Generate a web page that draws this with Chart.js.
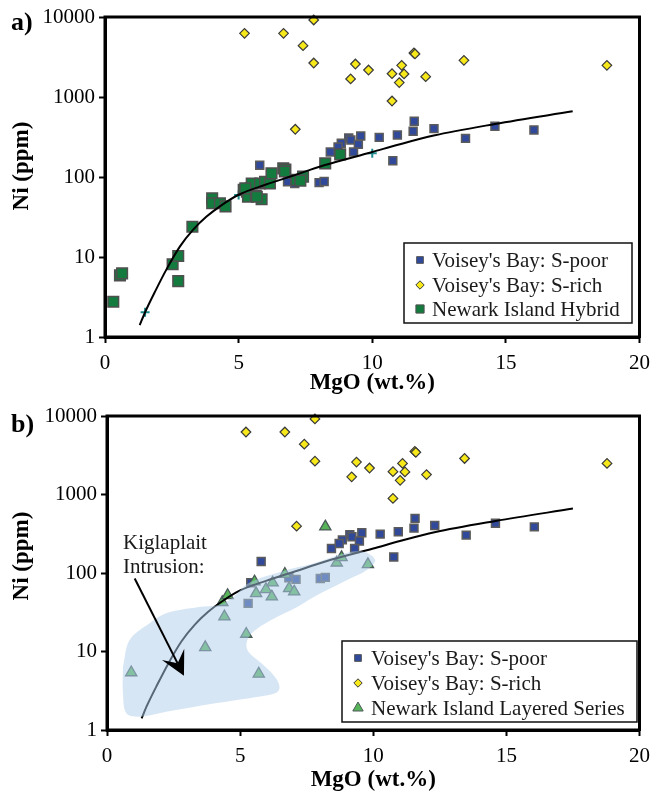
<!DOCTYPE html>
<html>
<head>
<meta charset="utf-8">
<script src="https://cdn.jsdelivr.net/npm/chart.js@4.4.1/dist/chart.umd.min.js"></script>
<style>
  html, body { margin: 0; padding: 0; background: #fff; }
  #wrap { position: relative; width: 658px; height: 794px; }
  canvas { position: absolute; left: 0; }
  #chartA { top: 0; }
  #chartB { top: 395px; }
</style>
</head>
<body>
<div id="wrap">
  <canvas id="chartA" width="658" height="395"></canvas>
  <canvas id="chartB" width="658" height="399"></canvas>
</div>
<script>
'use strict';

/* ── data: [MgO wt.%, Ni ppm] ── */
const MGO_TICKS = [0, 5, 10, 15, 20];
const NI_TICKS  = [1, 10, 100, 1000, 10000];

const S_POOR = [
  [11.57, 497], [11.53, 373], [12.31, 402], [14.59, 430], [16.05, 387],
  [13.49, 304], [10.94, 335], [10.26, 313], [9.57, 325], [9.12, 307],
  [9.2, 290], [8.84, 264], [8.72, 237], [9.48, 256], [8.43, 205],
  [9.3, 205], [10.77, 160], [5.79, 140], [8.01, 85], [8.2, 88],
  [6.83, 87], [7.1, 83], [5.4, 75],
];
const S_POOR_B_ONLY = [[5.3, 41]];

const S_RICH = [
  [5.22, 6250], [6.68, 6250], [7.81, 9175], [7.41, 4380], [7.81, 2660],
  [9.37, 2585], [9.19, 1680], [9.86, 2175], [10.74, 1955], [11.1, 2490],
  [11.19, 1940], [11.01, 1515], [10.74, 891], [11.56, 3550], [11.6, 3450],
  [12.0, 1795], [13.43, 2875], [18.78, 2490], [7.12, 395],
];

const NEWARK_HYBRID = [
  [0.31, 2.76], [0.56, 5.9], [0.64, 6.25], [2.53, 8.1], [2.74, 10.3],
  [2.74, 5.0], [3.27, 23.9], [4.01, 54], [4.01, 47], [4.3, 47],
  [4.51, 43], [5.19, 69], [5.31, 65.5], [5.35, 56.7], [5.49, 83],
  [5.64, 58], [5.86, 52.6], [5.8, 83], [5.99, 87], [6.17, 83],
  [6.23, 111], [6.67, 128], [6.75, 124], [6.73, 117], [7.16, 92],
  [7.41, 101], [7.31, 90], [5.25, 72], [5.68, 56.7], [8.24, 148],
  [8.8, 192],
];

const NEWARK_LAYERED = [
  [0.91, 5.4], [3.69, 11.3], [5.23, 16.7], [5.7, 5.2], [4.41, 27.8],
  [4.33, 42.4], [4.53, 52], [5.54, 77.5], [5.6, 55.1], [5.97, 62],
  [6.22, 75.2], [6.19, 49.9], [6.68, 97], [6.84, 63.8], [7.03, 57.8],
  [8.2, 389], [8.63, 135], [8.81, 158], [9.8, 129],
];

const MODEL_CURVE = [
  [1.3, 1.41], [1.5, 2.04], [1.9, 3.85], [2.3, 7.0], [2.8, 13.5],
  [3.3, 22], [3.8, 32], [4.3, 43], [5.0, 60], [6.0, 80],
  [7.0, 103], [8.2, 140], [10.0, 205], [11.0, 255], [12.3, 330],
  [14.6, 460], [17.5, 662],
];
const MODEL_NODES = [[1.5, 2.04], [5.0, 59.6], [10.0, 198]];

// contour of the Kiglapait Intrusion field (panel b)
const KIGLA_REGION = [
  [0.6, 6.4], [0.85, 14.0], [1.6, 22.9], [2.22, 30.7], [3.45, 36.9],
  [4.19, 39.1], [4.69, 47.6], [5.31, 74], [6.54, 104], [7.78, 133],
  [9.02, 181], [9.64, 187], [10.07, 146], [9.76, 109], [9.02, 81.5],
  [7.78, 49.9], [7.16, 37.2], [6.17, 25.2], [5.43, 17.1], [5.24, 12.7],
  [5.31, 9.95], [5.8, 7.07], [6.3, 4.78], [6.48, 3.56], [6.36, 2.99],
  [5.68, 2.66], [4.07, 2.19], [2.22, 1.71], [1.22, 1.48], [0.73, 1.63],
  [0.6, 2.94], [0.6, 6.4],
];
const KIGLA_ARROW = [[1.04, 85], [2.89, 4.9]];
const KIGLA_LABEL = { at: [0.6, 241], lines: ['Kiglaplait', 'Intrusion:'] };

/* ── styles ── */
const SERIF = "'Liberation Serif', 'Times New Roman', serif";
Chart.defaults.font.family = SERIF;
Chart.defaults.color = '#000';

const ST_POOR    = { pointStyle: 'rect',    backgroundColor: '#30499b', borderColor: '#5b5b5b', borderWidth: 1.5 };
const ST_RICH    = { pointStyle: 'rectRot', backgroundColor: '#f7e81a', borderColor: '#3a3a3a', borderWidth: 1.2 };
const ST_HYBRID  = { pointStyle: 'rect',    backgroundColor: '#147b3e', borderColor: '#4f4f4f', borderWidth: 1.5 };
const ST_LAYERED = { pointStyle: 'triangle', backgroundColor: '#58b458', borderColor: '#4b5a5a', borderWidth: 1.3 };

const toPts = arr => arr.map(([x, y]) => ({ x, y }));

function axisCommon() {
  return {
    grid:   { drawOnChartArea: false, drawTicks: true, tickLength: 6, tickWidth: 2, tickColor: '#000' },
    border: { display: true, color: '#000', width: 3 },
  };
}

function baseOptions(p) {
  return {
    responsive: false,
    animation: false,
    events: [],
    layout: { padding: { top: p.top, right: p.right, left: 0, bottom: 0 } },
    plugins: { legend: { display: false }, tooltip: { enabled: false } },
    scales: {
      x: {
        type: 'linear', min: 0, max: 20,
        afterBuildTicks: s => { s.ticks = MGO_TICKS.map(v => ({ value: v })); },
        afterFit: s => { s.height = p.xHeight; },
        ticks: { color: '#000', font: { size: 21 }, padding: 8, maxRotation: 0 },
        title: {
          display: true, text: 'MgO (wt.%)', color: '#000',
          font: { size: 23, weight: 'bold' }, padding: { top: 0, bottom: p.xTitlePad },
        },
        ...axisCommon(),
      },
      y: {
        type: 'logarithmic', min: 1, max: 10000,
        afterBuildTicks: s => { s.ticks = NI_TICKS.map(v => ({ value: v })); },
        afterFit: s => { s.width = p.yWidth; },
        ticks: { color: '#000', font: { size: 21 }, padding: 4, callback: v => String(v) },
        ...axisCommon(),
      },
    },
  };
}

/* frame, panel letter, y title, in-plot legend and extras */
function decorPlugin(cfg) {
  return {
    id: 'decor',
    afterDraw(chart) {
      const { ctx, chartArea: a } = chart;
      ctx.save();
      ctx.strokeStyle = '#000';
      ctx.lineWidth = 3;
      ctx.strokeRect(a.left, a.top, a.right - a.left, a.bottom - a.top);

      ctx.fillStyle = '#000';
      ctx.textAlign = 'left';
      ctx.textBaseline = 'middle';
      ctx.font = `bold 26px ${SERIF}`;
      ctx.fillText(cfg.letter, 11, cfg.letterY);

      ctx.save();
      ctx.translate(22, cfg.yTitleY);
      ctx.rotate(-Math.PI / 2);
      ctx.textAlign = 'center';
      ctx.font = `bold 23px ${SERIF}`;
      ctx.fillText('Ni (ppm)', 0, 0);
      ctx.restore();

      if (cfg.extra) cfg.extra(chart);

      // legend
      const L = cfg.legend;
      ctx.fillStyle = '#fff';
      ctx.fillRect(L.x, L.y, L.w, L.h);
      ctx.lineWidth = 1.5;
      ctx.strokeStyle = '#111';
      ctx.strokeRect(L.x, L.y, L.w, L.h);
      ctx.font = `21px ${SERIF}`;
      ctx.textAlign = 'left';
      ctx.textBaseline = 'middle';
      L.items.forEach((it, i) => {
        const y = L.rows[i];
        ctx.fillStyle = it.style.backgroundColor;
        ctx.strokeStyle = it.style.borderColor;
        ctx.lineWidth = 1;
        Chart.helpers.drawPoint(ctx, { pointStyle: it.style.pointStyle, radius: it.r, borderWidth: 1, rotation: 0 }, L.markX, y);
        ctx.fillStyle = '#1a1a1a';
        ctx.fillText(it.label, L.textX, y + 1);
      });
      ctx.restore();
    },
  };
}

/* ── panel a ── */
new Chart(document.getElementById('chartA'), {
  type: 'scatter',
  data: {
    datasets: [
      { label: 'model', data: toPts(MODEL_CURVE), showLine: true, borderColor: '#000', borderWidth: 2,
        pointRadius: 0, cubicInterpolationMode: 'monotone', fill: false, order: 1 },
      { label: 'Newark Island Hybrid', data: toPts(NEWARK_HYBRID), ...ST_HYBRID, pointRadius: 7.5, order: 2, clip: 12 },
      { label: "Voisey's Bay: S-rich", data: toPts(S_RICH), ...ST_RICH, pointRadius: 4.8, order: 3, clip: 12 },
      { label: "Voisey's Bay: S-poor", data: toPts(S_POOR), ...ST_POOR, pointRadius: 5.6, order: 4, clip: 12 },
      { label: 'nodes', data: toPts(MODEL_NODES), pointStyle: 'cross', pointRadius: 4.5,
        borderColor: '#1c8c8c', borderWidth: 2, order: 5 },
    ],
  },
  options: baseOptions({ top: 17, right: 13, yWidth: 105, xHeight: 58, xTitlePad: -2 }),
  plugins: [decorPlugin({
    letter: 'a)', letterY: 23, yTitleY: 166,
    legend: {
      x: 404, y: 243, w: 228, h: 80, markX: 420, textX: 432, rows: [260, 285, 309],
      items: [
        { label: "Voisey's Bay: S-poor", style: ST_POOR, r: 4.8 },
        { label: "Voisey's Bay: S-rich", style: ST_RICH, r: 4.2 },
        { label: 'Newark Island Hybrid', style: ST_HYBRID, r: 5.8 },
      ],
    },
  })],
});

/* ── panel b ── */
function drawKiglapait(chart) {
  const { ctx, scales: { x: xs, y: ys } } = chart;
  const [p0, p1] = KIGLA_ARROW.map(([m, n]) => [xs.getPixelForValue(m), ys.getPixelForValue(n)]);
  const dx = p1[0] - p0[0], dy = p1[1] - p0[1];
  const len = Math.hypot(dx, dy);
  const ux = dx / len, uy = dy / len, nx = -uy, ny = ux;
  const headLen = 24, headHalf = 12.5, notch = 14;
  ctx.strokeStyle = '#000';
  ctx.fillStyle = '#000';
  ctx.lineWidth = 2;
  ctx.beginPath();
  ctx.moveTo(p0[0], p0[1]);
  ctx.lineTo(p1[0] - ux * notch, p1[1] - uy * notch);
  ctx.stroke();
  ctx.beginPath();
  ctx.moveTo(p1[0], p1[1]);
  ctx.lineTo(p1[0] - ux * headLen + nx * headHalf, p1[1] - uy * headLen + ny * headHalf);
  ctx.lineTo(p1[0] - ux * notch, p1[1] - uy * notch);
  ctx.lineTo(p1[0] - ux * headLen - nx * headHalf, p1[1] - uy * headLen - ny * headHalf);
  ctx.closePath();
  ctx.fill();

  const lx = xs.getPixelForValue(KIGLA_LABEL.at[0]);
  const ly = ys.getPixelForValue(KIGLA_LABEL.at[1]);
  ctx.font = `21px ${SERIF}`;
  ctx.textAlign = 'left';
  ctx.textBaseline = 'middle';
  ctx.fillStyle = '#1a1a1a';
  KIGLA_LABEL.lines.forEach((t, i) => ctx.fillText(t, lx, ly + i * 24));
}

new Chart(document.getElementById('chartB'), {
  type: 'scatter',
  data: {
    datasets: [
      { label: 'Kiglapait field', data: toPts(KIGLA_REGION), showLine: true, fill: 'shape',
        backgroundColor: 'rgba(173,205,235,0.5)', borderColor: 'rgba(0,0,0,0)', borderWidth: 0,
        pointRadius: 0, tension: 0.35, order: 0 },
      { label: 'model', data: toPts(MODEL_CURVE), showLine: true, borderColor: '#000', borderWidth: 2,
        pointRadius: 0, cubicInterpolationMode: 'monotone', fill: false, order: 1 },
      { label: 'Newark Island Layered Series', data: toPts(NEWARK_LAYERED), ...ST_LAYERED, pointRadius: 6.5, order: 2, clip: 12 },
      { label: "Voisey's Bay: S-rich", data: toPts(S_RICH), ...ST_RICH, pointRadius: 4.8, order: 3, clip: 12 },
      { label: "Voisey's Bay: S-poor", data: toPts(S_POOR.concat(S_POOR_B_ONLY)), ...ST_POOR, pointRadius: 5.6, order: 4, clip: 12 },
    ],
  },
  options: baseOptions({ top: 21, right: 12, yWidth: 107, xHeight: 64, xTitlePad: 0 }),
  plugins: [decorPlugin({
    letter: 'b)', letterY: 30, yTitleY: 161,
    extra: drawKiglapait,
    legend: {
      x: 342, y: 246, w: 295, h: 81, markX: 358, textX: 371, rows: [263, 288, 313],
      items: [
        { label: "Voisey's Bay: S-poor", style: ST_POOR, r: 4.8 },
        { label: "Voisey's Bay: S-rich", style: ST_RICH, r: 4.2 },
        { label: 'Newark Island Layered Series', style: ST_LAYERED, r: 6 },
      ],
    },
  })],
});
</script>
</body>
</html>
